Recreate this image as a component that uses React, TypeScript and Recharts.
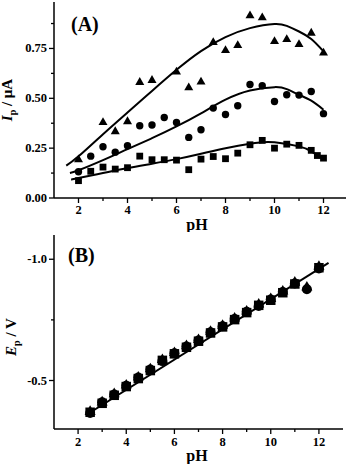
import React from 'react';
import { ComposedChart, Line, Scatter, XAxis, YAxis, Label } from 'recharts';

const FONT = '"Liberation Serif", "Times New Roman", serif';

// panel (A): peak current vs pH, three concentrations
const phA = [2, 2.5, 3, 3.5, 4, 4.5, 5, 5.5, 6, 6.5, 7, 7.5, 8, 8.5, 9, 9.5, 10, 10.5, 11, 11.5, 12];
const ipTriangle = [0.195, null, 0.382, 0.336, 0.386, 0.583, 0.593, null, 0.635, 0.556, 0.585, 0.783, 0.743, 0.768, 0.917, 0.907, 0.788, 0.798, 0.773, 0.83, 0.73];
const ipCircle = [0.132, 0.21, 0.257, 0.23, 0.262, 0.362, 0.366, 0.404, 0.379, 0.304, 0.342, 0.451, 0.419, 0.463, 0.569, 0.563, 0.484, 0.518, 0.516, 0.534, 0.423];
const phSquare = [2, 2.5, 3, 3.5, 4, 4.5, 5, 5.5, 6, 6.5, 7, 7.5, 8, 8.5, 9, 9.5, 10, 10.5, 11, 11.5, 11.75, 12];
const ipSquare = [0.087, 0.134, 0.155, 0.145, 0.152, 0.21, 0.192, 0.192, 0.19, 0.142, 0.195, 0.208, 0.197, 0.225, 0.267, 0.289, 0.25, 0.27, 0.264, 0.239, 0.213, 0.2];

// fitted curves
const fitTriPh = [1.5, 2, 3, 4, 5, 6, 7, 8, 9, 10, 10.5, 11, 11.5, 12];
const fitTri = [0.162, 0.209, 0.32, 0.429, 0.537, 0.643, 0.737, 0.807, 0.852, 0.873, 0.863, 0.835, 0.797, 0.735];
const fitCirPh = [1.65, 2, 3, 4, 5, 6, 7, 8, 9, 10, 10.5, 11, 11.5, 12];
const fitCir = [0.125, 0.139, 0.19, 0.245, 0.3, 0.359, 0.425, 0.493, 0.539, 0.556, 0.546, 0.518, 0.488, 0.443];
const fitSqPh = [1.7, 2, 3, 4, 5, 6, 7, 8, 9, 9.5, 10, 11, 11.5, 12];
const fitSq = [0.092, 0.1, 0.125, 0.15, 0.172, 0.195, 0.222, 0.25, 0.272, 0.279, 0.279, 0.259, 0.234, 0.195];

// panel (B): peak potential vs pH
const phB = [2.5, 3, 3.5, 4, 4.5, 5, 5.5, 6, 6.5, 7, 7.5, 8, 8.5, 9, 9.5, 10, 10.5, 11, 11.5, 12];
const epSquare = [-0.369, -0.406, -0.439, -0.475, -0.508, -0.541, -0.583, -0.61, -0.637, -0.662, -0.696, -0.721, -0.751, -0.78, -0.81, -0.831, -0.862, -0.898, null, -0.965];
const epCircle = [-0.366, -0.41, -0.442, -0.478, -0.512, -0.545, -0.58, -0.612, -0.64, -0.665, -0.699, -0.724, -0.754, -0.783, -0.807, -0.834, -0.865, -0.9, -0.876, -0.962];
const epTriangle = [-0.374, -0.413, -0.447, -0.483, -0.516, -0.55, -0.588, -0.617, -0.645, -0.67, -0.704, -0.729, -0.759, -0.788, -0.817, -0.839, -0.87, -0.907, -0.887, -0.972];
const fitBPh = [2.5, 12.4];
const fitB = [-0.368, -0.985];

const ticksA = [0, 0.125, 0.25, 0.375, 0.5, 0.625, 0.75, 0.875];
const ticksB = [-1.0, -0.75, -0.5];
const ticksX = [2, 3, 4, 5, 6, 7, 8, 9, 10, 11, 12];

const pts = (xs: number[], ys: (number | null)[]) =>
  xs.map((ph, i) => ({ ph, v: ys[i] })).filter((d) => d.v !== null);

const square = (s: number) => (p: any) => (
  <rect x={p.cx - s / 2} y={p.cy - s / 2} width={s} height={s} fill="#000" />
);
const circle = (r: number) => (p: any) => <circle cx={p.cx} cy={p.cy} r={r} fill="#000" />;
const triangle = (s: number) => (p: any) => {
  const h = s * 0.87;
  return (
    <polygon
      points={`${p.cx},${p.cy - h * 0.6} ${p.cx - s / 2},${p.cy + h * 0.4} ${p.cx + s / 2},${p.cy + h * 0.4}`}
      fill="#000"
    />
  );
};

const xTick = (labelDy: number) => (props: any) => {
  const { x, y, payload } = props;
  const major = payload.value % 2 === 0;
  return (
    <g>
      <line x1={x} x2={x} y1={y} y2={y + (major ? 5 : 3)} stroke="#000" strokeWidth={1.3} />
      {major && (
        <text x={x} y={y + labelDy} textAnchor="middle" fontFamily={FONT} fontWeight="bold" fontSize={12.5} fill="#000">
          {payload.value}
        </text>
      )}
    </g>
  );
};

const yTick = (isMajor: (v: number) => boolean, fmt: (v: number) => string) => (props: any) => {
  const { x, y, payload } = props;
  const major = isMajor(payload.value);
  return (
    <g>
      <line x1={x} x2={x - (major ? 5 : 3)} y1={y} y2={y} stroke="#000" strokeWidth={1.3} />
      {major && (
        <text x={x - 7} y={y + 4} textAnchor="end" fontFamily={FONT} fontWeight="bold" fontSize={12.5} fill="#000">
          {fmt(payload.value)}
        </text>
      )}
    </g>
  );
};

const txt = { fontFamily: FONT, fontWeight: 'bold' as const, fill: '#000' };

const axisLine = { stroke: '#000', strokeWidth: 1.5 };

export default function App() {
  return (
    <div style={{ position: 'absolute', left: 0, top: 0, width: 346, height: 464, overflow: 'hidden', background: '#fff' }}>
      <div style={{ position: 'absolute', left: 0, top: 0 }}>
        <ComposedChart width={348} height={232} margin={{ top: 2, right: 0, bottom: 4, left: 0 }}>
          <XAxis
            type="number"
            dataKey="ph"
            domain={[1, 13]}
            ticks={ticksX}
            interval={0}
            height={30}
            tickSize={0}
            tickMargin={0}
            tickLine={false}
            axisLine={axisLine}
            tick={xTick(16)}
          >
            <Label
              content={() => (
                <text x={197} y={230} textAnchor="middle" fontSize={16} {...txt}>
                  pH
                </text>
              )}
            />
          </XAxis>
          <YAxis
            type="number"
            domain={[0, 0.983]}
            ticks={ticksA}
            interval={0}
            width={54}
            tickSize={0}
            tickMargin={0}
            tickLine={false}
            axisLine={axisLine}
            tick={yTick((v) => Math.round(v * 1000) % 250 === 0, (v) => v.toFixed(2))}
          >
            <Label
              content={() => (
                <text x={12} y={100} transform="rotate(-90, 12, 100)" textAnchor="middle" fontSize={15} {...txt}>
                  <tspan fontStyle="italic">I</tspan>
                  <tspan fontSize={10} dy={4}>p</tspan>
                  <tspan dy={-4}> / μA</tspan>
                </text>
              )}
            />
            <Label
              content={() => (
                <text x={71} y={31} fontSize={20} {...txt}>
                  (A)
                </text>
              )}
            />
          </YAxis>
          <Line data={pts(fitTriPh, fitTri)} dataKey="v" type="natural" stroke="#000" strokeWidth={2} dot={false} isAnimationActive={false} />
          <Line data={pts(fitCirPh, fitCir)} dataKey="v" type="natural" stroke="#000" strokeWidth={2} dot={false} isAnimationActive={false} />
          <Line data={pts(fitSqPh, fitSq)} dataKey="v" type="natural" stroke="#000" strokeWidth={2} dot={false} isAnimationActive={false} />
          <Scatter data={pts(phA, ipTriangle)} dataKey="v" shape={triangle(9)} isAnimationActive={false} />
          <Scatter data={pts(phA, ipCircle)} dataKey="v" shape={circle(3.7)} isAnimationActive={false} />
          <Scatter data={pts(phSquare, ipSquare)} dataKey="v" shape={square(6.8)} isAnimationActive={false} />
        </ComposedChart>
      </div>
      <div style={{ position: 'absolute', left: 0, top: 230 }}>
        <ComposedChart width={346} height={234} margin={{ top: 5, right: 3, bottom: 5, left: 0 }}>
          <XAxis
            type="number"
            dataKey="ph"
            domain={[1, 13]}
            ticks={ticksX}
            interval={0}
            height={30}
            tickSize={0}
            tickMargin={0}
            tickLine={false}
            axisLine={axisLine}
            tick={xTick(17)}
          >
            <Label
              content={() => (
                <text x={197} y={231} textAnchor="middle" fontSize={16} {...txt}>
                  pH
                </text>
              )}
            />
          </XAxis>
          <YAxis
            type="number"
            domain={[-1.1, -0.3]}
            reversed
            ticks={ticksB}
            interval={0}
            width={54}
            tickSize={0}
            tickMargin={0}
            tickLine={false}
            axisLine={axisLine}
            tick={yTick((v) => v !== -0.75, (v) => v.toFixed(1))}
          >
            <Label
              content={() => (
                <text x={16} y={107} transform="rotate(-90, 16, 107)" textAnchor="middle" fontSize={15} {...txt}>
                  <tspan fontStyle="italic">E</tspan>
                  <tspan fontSize={10} dy={4}>p</tspan>
                  <tspan dy={-4}> / V</tspan>
                </text>
              )}
            />
            <Label
              content={() => (
                <text x={68} y={32} fontSize={20} {...txt}>
                  (B)
                </text>
              )}
            />
          </YAxis>
          <Line data={pts(fitBPh, fitB)} dataKey="v" type="linear" stroke="#000" strokeWidth={2} dot={false} isAnimationActive={false} />
          <Scatter data={pts(phB, epSquare)} dataKey="v" shape={square(9.5)} isAnimationActive={false} />
          <Scatter data={pts(phB, epCircle)} dataKey="v" shape={circle(5)} isAnimationActive={false} />
          <Scatter data={pts(phB, epTriangle)} dataKey="v" shape={triangle(11)} isAnimationActive={false} />
        </ComposedChart>
      </div>
    </div>
  );
}
